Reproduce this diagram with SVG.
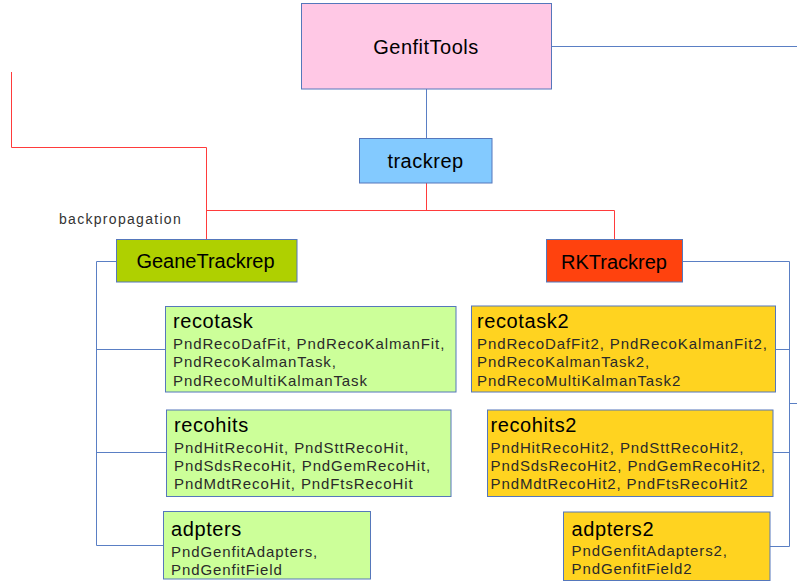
<svg xmlns="http://www.w3.org/2000/svg" width="797" height="583" viewBox="0 0 797 583">
<style>
.box{stroke:#5577bb;stroke-width:1}
.node{font-family:"Liberation Sans",Arial,sans-serif;font-size:20px;fill:#000;text-anchor:middle}
.title{font-family:"Liberation Sans",Arial,sans-serif;font-size:20px;fill:#000;letter-spacing:0.6px}
.sub{font-family:"Liberation Sans",Arial,sans-serif;font-size:15px;fill:#2a2a2a;letter-spacing:0.9px}
.red{fill:none;stroke:#ff3b3b;stroke-width:1}
.blue{fill:none;stroke:#5a7fc4;stroke-width:1}
.lbl{font-family:"Liberation Sans",Arial,sans-serif;font-size:14px;fill:#333;letter-spacing:1.3px}
</style>
<rect width="797" height="583" fill="#ffffff"/>
<g id="connectors">
<path class="blue" d="M551.5 46.5 H797"/>
<path class="blue" d="M426.5 89 V138"/>
<path class="red" d="M426.5 183 V210.5"/>
<path class="red" d="M206.5 210.5 H614.5"/>
<path class="red" d="M614.5 210.5 V239"/>
<path class="red" d="M11.5 72 V147.5 H206.5 V239"/>
<path class="blue" d="M116 261.5 H96.5 V545.5 H163"/>
<path class="blue" d="M96.5 349.5 H165.5"/>
<path class="blue" d="M96.5 452.5 H166"/>
<path class="blue" d="M683 261.5 H789.5 V546.5 H770"/>
<path class="blue" d="M789.5 349.5 H776"/>
<path class="blue" d="M789.5 452.5 H773"/>
<path class="blue" d="M789.5 403.5 H797"/>
<text class="lbl" x="59" y="223.5">backpropagation</text>
</g>
<g id="GenfitTools">
<rect class="box" x="301.5" y="3.5" width="250" height="85.5" fill="#ffc8e5"/>
<text class="node" x="426" y="53.5" letter-spacing="0.5">GenfitTools</text>
</g>
<g id="trackrep">
<rect class="box" x="359.5" y="138.5" width="132.5" height="44.5" fill="#83caff"/>
<text class="node" x="425.5" y="167.5" letter-spacing="0.5">trackrep</text>
</g>
<g id="GeaneTrackrep">
<rect class="box" x="116.5" y="239.5" width="180.5" height="42.5" fill="#afd000"/>
<text class="node" x="205.5" y="268">GeaneTrackrep</text>
</g>
<g id="RKTrackrep">
<rect class="box" x="546.5" y="239.5" width="136" height="42.5" fill="#ff420e"/>
<text class="node" x="614" y="268.5">RKTrackrep</text>
</g>
<g id="recotask">
<rect class="box" x="165.5" y="306.5" width="290.5" height="85.5" fill="#ccff99"/>
<text class="title" x="173" y="327.5">recotask</text>
<text class="sub" x="173" y="348.5">PndRecoDafFit, PndRecoKalmanFit,</text>
<text class="sub" x="173" y="367">PndRecoKalmanTask,</text>
<text class="sub" x="173" y="385.5">PndRecoMultiKalmanTask</text>
</g>
<g id="recohits">
<rect class="box" x="166.5" y="410" width="284.5" height="86.5" fill="#ccff99"/>
<text class="title" x="174" y="431.5">recohits</text>
<text class="sub" x="174" y="452.5">PndHitRecoHit, PndSttRecoHit,</text>
<text class="sub" x="174" y="471">PndSdsRecoHit, PndGemRecoHit,</text>
<text class="sub" x="174" y="489">PndMdtRecoHit, PndFtsRecoHit</text>
</g>
<g id="adpters">
<rect class="box" x="163.5" y="511.5" width="207" height="67.5" fill="#ccff99"/>
<text class="title" x="171" y="535.5">adpters</text>
<text class="sub" x="171" y="556.5">PndGenfitAdapters,</text>
<text class="sub" x="171" y="574.5">PndGenfitField</text>
</g>
<g id="recotask2">
<rect class="box" x="471.5" y="306" width="304" height="86" fill="#ffd320"/>
<text class="title" x="477" y="327.5">recotask2</text>
<text class="sub" x="477" y="348.5">PndRecoDafFit2, PndRecoKalmanFit2,</text>
<text class="sub" x="477" y="367">PndRecoKalmanTask2,</text>
<text class="sub" x="477" y="385.5">PndRecoMultiKalmanTask2</text>
</g>
<g id="recohits2">
<rect class="box" x="487.5" y="410" width="285.5" height="86.5" fill="#ffd320"/>
<text class="title" x="490.5" y="431.5">recohits2</text>
<text class="sub" x="490.5" y="452.5">PndHitRecoHit2, PndSttRecoHit2,</text>
<text class="sub" x="490.5" y="471">PndSdsRecoHit2, PndGemRecoHit2,</text>
<text class="sub" x="490.5" y="489">PndMdtRecoHit2, PndFtsRecoHit2</text>
</g>
<g id="adpters2">
<rect class="box" x="563.5" y="512" width="206.5" height="68.5" fill="#ffd320"/>
<text class="title" x="571.5" y="535.5">adpters2</text>
<text class="sub" x="571.5" y="555.5">PndGenfitAdapters2,</text>
<text class="sub" x="571.5" y="574">PndGenfitField2</text>
</g>
</svg>
